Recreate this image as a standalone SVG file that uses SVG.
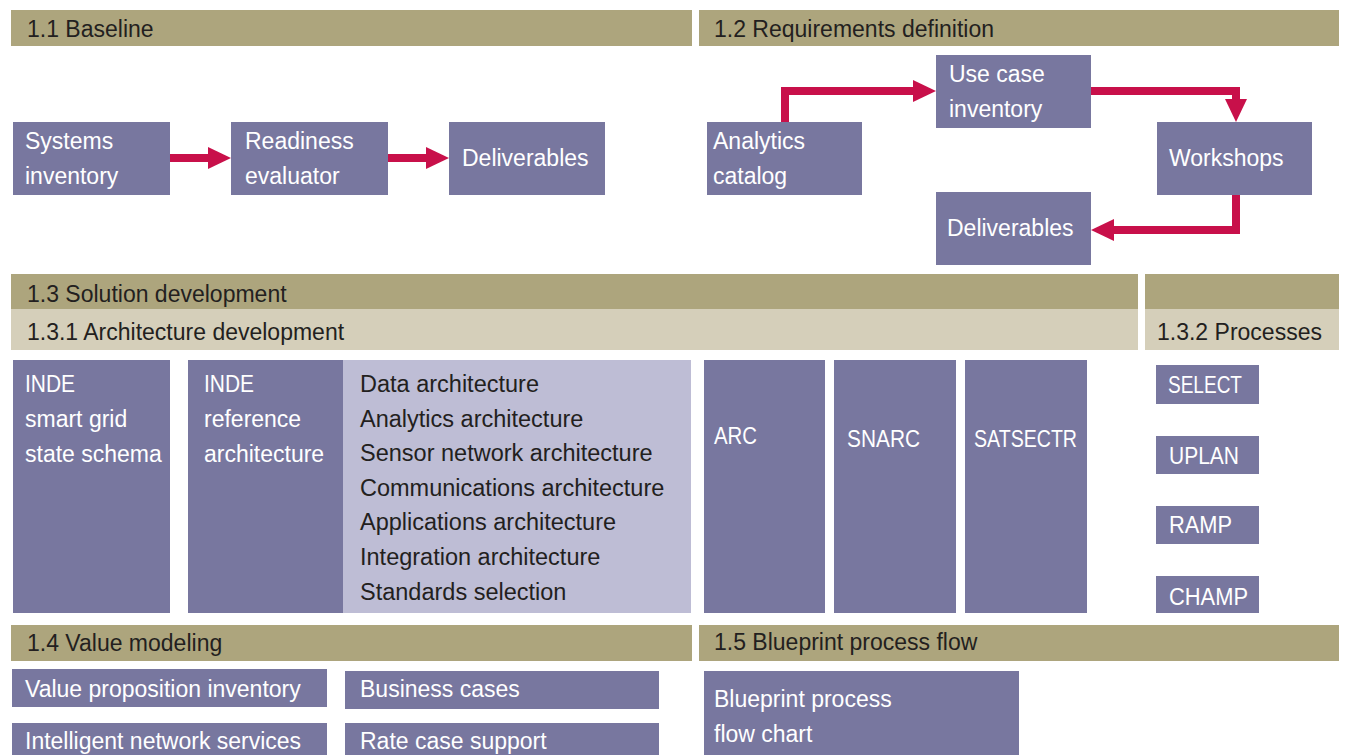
<svg xmlns="http://www.w3.org/2000/svg" width="1347" height="755" viewBox="0 0 1347 755">
<defs>
<style>
.hd{fill:#ADA57D}
.hl{fill:#D5CFBA}
.bx{fill:#78779F}
.lb{fill:#BEBDD5}
text{font-family:"Liberation Sans",Arial,sans-serif;font-size:23.5px}
.ht{fill:#231F20;font-size:23px}
.wt{fill:#FFFFFF;font-size:23px}
.dt{fill:#231F20}
.cn{fill:none;stroke:#C8104A;stroke-width:8;stroke-linejoin:miter}
</style>
<marker id="ah" markerUnits="userSpaceOnUse" markerWidth="24" markerHeight="24" refX="0" refY="11" orient="auto" overflow="visible">
<path d="M0,0 L23,11 L0,22 Z" fill="#C8104A"/>
</marker>
</defs>
<rect width="1347" height="755" fill="#FFFFFF"/>

<g id="headers">
<rect class="hd" x="11" y="10" width="681" height="36"/>
<text class="ht" x="27" y="37">1.1 Baseline</text>
<rect class="hd" x="699" y="10" width="640" height="36"/>
<text class="ht" x="714" y="37">1.2 Requirements definition</text>
<rect class="hd" x="11" y="274" width="1127" height="35"/>
<text class="ht" x="27" y="302">1.3 Solution development</text>
<rect class="hl" x="11" y="309" width="1127" height="41"/>
<text class="ht" x="27" y="340">1.3.1 Architecture development</text>
<rect class="hd" x="1145" y="274" width="194" height="35"/>
<rect class="hl" x="1145" y="309" width="194" height="41"/>
<text class="ht" x="1157" y="340">1.3.2 Processes</text>
<rect class="hd" x="11" y="625" width="681" height="36"/>
<text class="ht" x="27" y="651">1.4 Value modeling</text>
<rect class="hd" x="699" y="625" width="640" height="36"/>
<text class="ht" x="714" y="650">1.5 Blueprint process flow</text>
</g>

<g id="connectors">
<path class="cn" d="M170,158 H208" marker-end="url(#ah)"/>
<path class="cn" d="M388,158 H426" marker-end="url(#ah)"/>
<path class="cn" d="M785,122 V91 H913" marker-end="url(#ah)"/>
<path class="cn" d="M1091,91 H1236 V99" marker-end="url(#ah)"/>
<path class="cn" d="M1236,195 V230 H1114" marker-end="url(#ah)"/>
</g>

<g id="n-systems-inventory">
<rect class="bx" x="13" y="122" width="157" height="73"/>
<text class="wt" x="25" y="149">Systems</text>
<text class="wt" x="25" y="184">inventory</text>
</g>
<g id="n-readiness-evaluator">
<rect class="bx" x="231" y="122" width="157" height="73"/>
<text class="wt" x="245" y="149">Readiness</text>
<text class="wt" x="245" y="184">evaluator</text>
</g>
<g id="n-deliverables-1">
<rect class="bx" x="449" y="122" width="156" height="73"/>
<text class="wt" x="462" y="166">Deliverables</text>
</g>

<g id="n-analytics-catalog">
<rect class="bx" x="707" y="122" width="155" height="73"/>
<text class="wt" x="713" y="149">Analytics</text>
<text class="wt" x="713" y="184">catalog</text>
</g>
<g id="n-use-case-inventory">
<rect class="bx" x="936" y="55" width="155" height="73"/>
<text class="wt" x="949" y="82">Use case</text>
<text class="wt" x="949" y="117">inventory</text>
</g>
<g id="n-workshops">
<rect class="bx" x="1157" y="122" width="155" height="73"/>
<text class="wt" x="1169" y="166">Workshops</text>
</g>
<g id="n-deliverables-2">
<rect class="bx" x="936" y="192" width="155" height="73"/>
<text class="wt" x="947" y="236">Deliverables</text>
</g>

<g id="n-inde-schema">
<rect class="bx" x="13" y="360" width="157" height="253"/>
<text class="wt" x="25" y="392" textLength="50" lengthAdjust="spacingAndGlyphs">INDE</text>
<text class="wt" x="25" y="427">smart grid</text>
<text class="wt" x="25" y="462">state schema</text>
</g>
<g id="n-inde-reference">
<rect class="bx" x="188" y="360" width="155" height="253"/>
<rect class="lb" x="343" y="360" width="348" height="253"/>
<text class="wt" x="204" y="392" textLength="50" lengthAdjust="spacingAndGlyphs">INDE</text>
<text class="wt" x="204" y="427">reference</text>
<text class="wt" x="204" y="462">architecture</text>
<text class="dt" x="360" y="392">Data architecture</text>
<text class="dt" x="360" y="427">Analytics architecture</text>
<text class="dt" x="360" y="461">Sensor network architecture</text>
<text class="dt" x="360" y="496">Communications architecture</text>
<text class="dt" x="360" y="530">Applications architecture</text>
<text class="dt" x="360" y="565">Integration architecture</text>
<text class="dt" x="360" y="600">Standards selection</text>
</g>
<g id="n-arc">
<rect class="bx" x="704" y="360" width="121" height="253"/>
<text class="wt" x="714" y="444" textLength="43" lengthAdjust="spacingAndGlyphs">ARC</text>
</g>
<g id="n-snarc">
<rect class="bx" x="834" y="360" width="122" height="253"/>
<text class="wt" x="847" y="447" textLength="73" lengthAdjust="spacingAndGlyphs">SNARC</text>
</g>
<g id="n-satsectr">
<rect class="bx" x="965" y="360" width="122" height="253"/>
<text class="wt" x="974" y="447" textLength="103" lengthAdjust="spacingAndGlyphs">SATSECTR</text>
</g>
<g id="n-select">
<rect class="bx" x="1156" y="365" width="103" height="39"/>
<text class="wt" x="1168" y="393" textLength="74" lengthAdjust="spacingAndGlyphs">SELECT</text>
</g>
<g id="n-uplan">
<rect class="bx" x="1156" y="436" width="103" height="38"/>
<text class="wt" x="1169" y="464" textLength="70" lengthAdjust="spacingAndGlyphs">UPLAN</text>
</g>
<g id="n-ramp">
<rect class="bx" x="1156" y="506" width="103" height="38"/>
<text class="wt" x="1169" y="533" textLength="63" lengthAdjust="spacingAndGlyphs">RAMP</text>
</g>
<g id="n-champ">
<rect class="bx" x="1156" y="576" width="103" height="37"/>
<text class="wt" x="1169" y="605" textLength="79" lengthAdjust="spacingAndGlyphs">CHAMP</text>
</g>

<g id="n-value-proposition">
<rect class="bx" x="12" y="669" width="315" height="38"/>
<text class="wt" x="25" y="697">Value proposition inventory</text>
</g>
<g id="n-business-cases">
<rect class="bx" x="345" y="671" width="314" height="38"/>
<text class="wt" x="360" y="697">Business cases</text>
</g>
<g id="n-intelligent-network">
<rect class="bx" x="12" y="723" width="315" height="32"/>
<text class="wt" x="25" y="749">Intelligent network services</text>
</g>
<g id="n-rate-case">
<rect class="bx" x="345" y="723" width="314" height="32"/>
<text class="wt" x="360" y="749">Rate case support</text>
</g>
<g id="n-blueprint">
<rect class="bx" x="704" y="671" width="315" height="84"/>
<text class="wt" x="714" y="707">Blueprint process</text>
<text class="wt" x="714" y="742">flow chart</text>
</g>
</svg>
